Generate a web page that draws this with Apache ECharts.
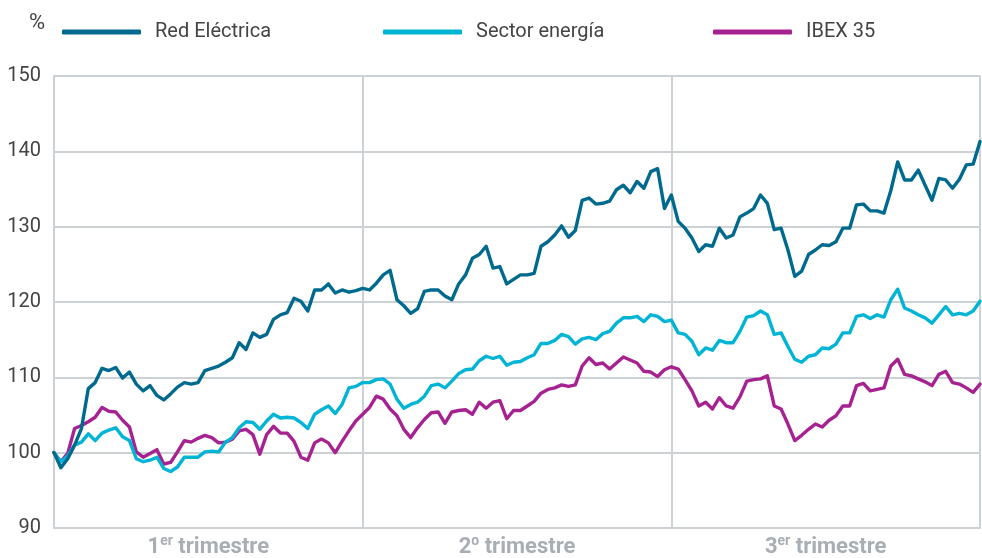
<!DOCTYPE html>
<html>
<head>
<meta charset="utf-8">
<script src="https://cdn.jsdelivr.net/npm/echarts@6/dist/echarts.min.js"></script>
<style>
  html, body { margin: 0; padding: 0; background: #fff; }
  #chart { width: 982px; height: 558px; }
</style>
</head>
<body>
<div id="chart"></div>
<script>
// cotización relativa (base 100), una sesión cada ~7 px
const redElectrica = [
  100, 98.0, 99.2, 101.0, 103.2, 108.5, 109.3, 111.2, 110.9, 111.3,
  109.9, 110.7, 109.1, 108.2, 108.9, 107.6, 107.0, 107.8, 108.7, 109.3,
  109.1, 109.3, 110.9, 111.2, 111.5, 112.0, 112.6, 114.6, 113.7, 115.9,
  115.3, 115.7, 117.7, 118.3, 118.6, 120.5, 120.1, 118.8, 121.6, 121.6,
  122.4, 121.2, 121.6, 121.3, 121.5, 121.8, 121.6, 122.5, 123.6, 124.2,
  120.3, 119.5, 118.5, 119.1, 121.4, 121.6, 121.6, 120.8, 120.3, 122.4,
  123.6, 125.8, 126.3, 127.4, 124.5, 124.7, 122.4, 123.0, 123.6, 123.6,
  123.8, 127.4, 128.0, 128.9, 130.1, 128.6, 129.5, 133.5, 133.8, 133.0,
  133.1, 133.4, 134.9, 135.5, 134.5, 136.0, 135.1, 137.3, 137.7, 132.4,
  134.2, 130.7, 129.8, 128.5, 126.7, 127.6, 127.4, 129.8, 128.5, 128.9,
  131.3, 131.8, 132.4, 134.2, 133.1, 129.6, 129.8, 126.9, 123.4, 124.1,
  126.3, 126.9, 127.6, 127.5, 128.0, 129.8, 129.8, 132.9, 133.0, 132.1,
  132.1, 131.8, 134.8, 138.6, 136.2, 136.2, 137.5, 135.5, 133.5, 136.4,
  136.2, 135.1, 136.3, 138.2, 138.3, 141.3
]
const sectorEnergia = [
  100, 98.8, 99.6, 101.0, 101.4, 102.5, 101.6, 102.6, 103.0, 103.3,
  102.1, 101.6, 99.2, 98.8, 99.0, 99.4, 97.9, 97.5, 98.1, 99.4,
  99.4, 99.4, 100.1, 100.2, 100.1, 101.4, 102.0, 103.3, 104.1, 104.0,
  103.1, 104.2, 105.1, 104.6, 104.7, 104.6, 104.0, 103.2, 105.1, 105.7,
  106.2, 105.2, 106.4, 108.6, 108.8, 109.3, 109.3, 109.7, 109.8, 109.1,
  107.1, 105.9, 106.4, 106.7, 107.5, 108.9, 109.1, 108.6, 109.5, 110.5,
  111.0, 111.1, 112.2, 112.8, 112.5, 112.8, 111.6, 112.0, 112.1, 112.6,
  113.0, 114.5, 114.5, 114.9, 115.7, 115.4, 114.4, 115.1, 115.3, 115.0,
  115.8, 116.1, 117.2, 117.9, 117.9, 118.1, 117.4, 118.3, 118.1, 117.4,
  117.6, 115.9, 115.7, 114.8, 113.0, 113.9, 113.6, 114.9, 114.6, 114.6,
  116.1, 118.0, 118.2, 118.8, 118.3, 115.7, 115.9, 114.1, 112.4, 112.0,
  112.8, 113.0, 113.9, 113.8, 114.4, 115.9, 115.9, 118.1, 118.3, 117.8,
  118.3, 118.0, 120.3, 121.7, 119.2, 118.8, 118.3, 117.9, 117.2, 118.3,
  119.4, 118.3, 118.5, 118.3, 118.8, 120.1
]
const ibex35 = [
  100, 98.8, 99.9, 103.2, 103.6, 104.1, 104.7, 106.0, 105.5, 105.4,
  104.3, 103.4, 100.1, 99.4, 99.9, 100.4, 98.5, 98.7, 100.1, 101.6,
  101.4, 101.9, 102.3, 102.0, 101.3, 101.4, 101.8, 102.9, 103.1, 102.4,
  99.8, 102.4, 103.5, 102.6, 102.6, 101.5, 99.4, 99.0, 101.3, 101.8,
  101.3, 100.0, 101.5, 102.9, 104.2, 105.1, 106.0, 107.5, 107.1, 105.8,
  104.9, 103.1, 102.0, 103.3, 104.4, 105.3, 105.4, 103.9, 105.4, 105.6,
  105.7, 105.1, 106.7, 105.9, 106.7, 106.9, 104.5, 105.6, 105.6, 106.2,
  106.8, 107.9, 108.4, 108.6, 109.0, 108.8, 109.0, 111.5, 112.6, 111.7,
  111.9, 111.1, 111.9, 112.7, 112.3, 111.9, 110.8, 110.7, 110.1, 111.0,
  111.4, 111.1, 109.7, 108.2, 106.2, 106.7, 105.8, 107.3, 106.2, 105.9,
  107.4, 109.5, 109.7, 109.8, 110.2, 106.2, 105.8, 103.8, 101.6, 102.3,
  103.1, 103.8, 103.4, 104.3, 104.9, 106.2, 106.2, 108.9, 109.2, 108.2,
  108.4, 108.6, 111.5, 112.4, 110.4, 110.2, 109.8, 109.4, 108.9, 110.4,
  110.8, 109.3, 109.1, 108.6, 108.0, 109.1
]
const sessions = redElectrica.map((v, i) => String(i))
const quarterNums = ['1', '2', '3']
const quarterSups = ['er', 'o', 'er']
const yTicks = { min: 90, max: 150, interval: 10 }

const colors = {
  red: '#006a8e',
  sector: '#00b4d5',
  ibex: '#a62290',
  grid: '#ccd1d6',
  text: '#444444',
  quarter: '#a8aeb4'
}
const fontFamily = 'Roboto, "Noto Sans", sans-serif'
const perQuarter = (sessions.length - 1) / 3

const chart = echarts.init(document.getElementById('chart'))

function legendAt(name, left) {
  return {
    data: [name],
    left: left,
    top: 17,
    icon: 'roundRect',
    itemWidth: 79,
    itemHeight: 5,
    selectedMode: false,
    textStyle: {
      fontFamily,
      fontSize: 20,
      color: colors.text,
      padding: [0, 0, 0, 9]
    }
  }
}

function lineSeries(name, data, color, z) {
  return {
    name,
    type: 'line',
    data,
    z,
    showSymbol: false,
    symbol: 'none',
    lineStyle: { width: 3.4, color, join: 'round', cap: 'round' },
    itemStyle: { color }
  }
}

const option = {
  animation: false,
  textStyle: { fontFamily },
  title: {
    text: '%',
    left: 24,
    top: 7,
    textStyle: { fontFamily, fontSize: 22, fontWeight: 'normal', color: colors.text }
  },
  legend: [
    legendAt('Red Eléctrica', 57),
    legendAt('Sector energía', 378),
    legendAt('IBEX 35', 708)
  ],
  grid: { left: 54, right: 2, top: 76, bottom: 29, containLabel: false },
  xAxis: [
    {
      type: 'category',
      data: sessions,
      boundaryGap: false,
      axisLine: { show: true, lineStyle: { color: colors.grid, width: 2 } },
      axisTick: { show: false },
      axisLabel: { show: false },
      splitLine: {
        show: true,
        interval: (idx) => idx % perQuarter === 0,
        lineStyle: { color: colors.grid, width: 2 }
      }
    },
    {
      type: 'category',
      data: quarterNums,
      boundaryGap: true,
      position: 'bottom',
      axisLine: { show: false },
      axisTick: { show: false },
      splitLine: { show: false },
      axisLabel: {
        margin: 6,
        formatter: (v, idx) => `{n|${quarterNums[idx]}}{s|${quarterSups[idx]}}{n| trimestre}`,
        rich: {
          n: { fontFamily, fontSize: 22, fontWeight: 'bold', color: colors.quarter, lineHeight: 26 },
          s: { fontFamily, fontSize: 14, fontWeight: 'bold', color: colors.quarter, lineHeight: 15, verticalAlign: 'top' }
        }
      }
    }
  ],
  yAxis: {
    type: 'value',
    min: yTicks.min,
    max: yTicks.max,
    interval: yTicks.interval,
    axisLine: { show: true, lineStyle: { color: colors.grid, width: 2 } },
    axisTick: { show: false },
    axisLabel: { fontFamily, fontSize: 20, color: colors.text, margin: 13 },
    splitLine: { show: true, lineStyle: { color: colors.grid, width: 2 } }
  },
  series: [
    lineSeries('Red Eléctrica', redElectrica, colors.red, 4),
    lineSeries('Sector energía', sectorEnergia, colors.sector, 3),
    lineSeries('IBEX 35', ibex35, colors.ibex, 2)
  ]
}

chart.setOption(option)
</script>
</body>
</html>
